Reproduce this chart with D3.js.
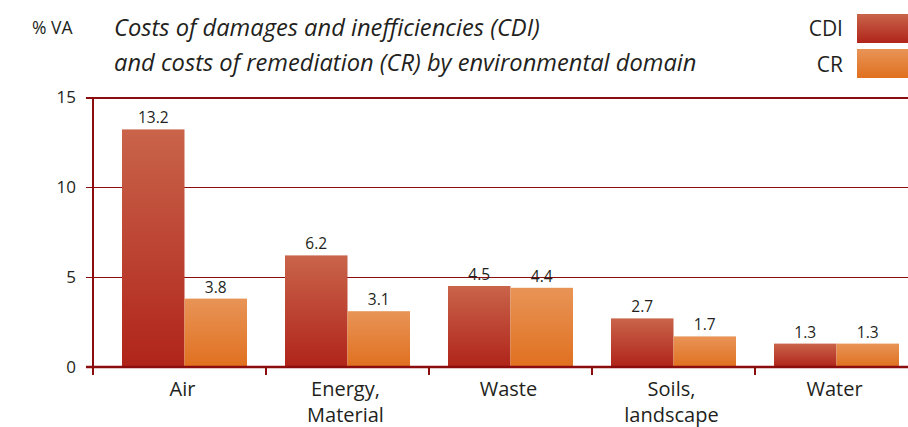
<!DOCTYPE html>
<html>
<head>
<meta charset="utf-8">
<script src="https://cdn.jsdelivr.net/npm/d3@7"></script>
<style>
  body { margin: 0; background: #fff; }
  text { font-family: "Open Sans", "Noto Sans", sans-serif; fill: #231f20; }
</style>
</head>
<body>
<svg id="chart" width="908" height="427"></svg>
<script>
var categories = [["Air"], ["Energy,", "Material"], ["Waste"], ["Soils,", "landscape"], ["Water"]];
var cdi = [13.2, 6.2, 4.5, 2.7, 1.3];
var cr = [3.8, 3.1, 4.4, 1.7, 1.3];
var series = ["CDI", "CR"];
var yTicks = [0, 5, 10, 15];
var titleLines = ["Costs of damages and inefficiencies (CDI)",
                  "and costs of remediation (CR) by environmental domain"];

var svg = d3.select("#chart"),
    width = +svg.attr("width"),
    height = +svg.attr("height");

var axisColor = "#8b0d0d";
var left = 93, zeroY = 367;

var defs = svg.append("defs");
var grads = [["gCDI", "#c9644a", "#b0241a"], ["gCR", "#e89457", "#e0701f"]];
grads.forEach(function(g) {
    var lg = defs.append("linearGradient").attr("id", g[0])
        .attr("x1", 0).attr("y1", 0).attr("x2", 0).attr("y2", 1);
    lg.append("stop").attr("offset", "0%").attr("stop-color", g[1]);
    lg.append("stop").attr("offset", "100%").attr("stop-color", g[2]);
});

var y = d3.scaleLinear().domain([0, 15]).range([zeroY, 97]);
var x0 = d3.scaleBand().domain(d3.range(categories.length)).range([103, 918]).paddingInner(0).paddingOuter(0);
var x1 = d3.scaleBand().domain(series).range([19, 144]).padding(0);

// gridlines
svg.selectAll("line.grid")
    .data(yTicks.filter(function(d) { return d > 0; }))
    .enter().append("line")
    .attr("x1", 86).attr("x2", width)
    .attr("y1", function(d) { return y(d) + 0.5; })
    .attr("y2", function(d) { return y(d) + 0.5; })
    .attr("stroke", axisColor)
    .attr("shape-rendering", "crispEdges")
    .attr("stroke-width", function(d) { return d == 15 ? 2 : 1; });

// bars
var data = categories.map(function(c, i) { return { i: i, vals: [cdi[i], cr[i]] }; });
var groups = svg.selectAll("g.grp")
    .data(data)
    .enter().append("g")
    .attr("transform", function(d) { return "translate(" + x0(d.i) + ",0)"; });

groups.selectAll("rect")
    .data(function(d) { return d.vals.map(function(v, k) { return { k: series[k], v: v }; }); })
    .enter().append("rect")
    .attr("x", function(d) { return x1(d.k); })
    .attr("width", x1.bandwidth())
    .attr("y", function(d) { return y(d.v); })
    .attr("height", function(d) { return zeroY - y(d.v); })
    .attr("fill", function(d) { return "url(#g" + d.k + ")"; });

groups.selectAll("text.val")
    .data(function(d) { return d.vals.map(function(v, k) { return { k: series[k], v: v }; }); })
    .enter().append("text")
    .attr("x", function(d) { return x1(d.k) + x1.bandwidth() / 2; })
    .attr("y", function(d) { return y(d.v) - 6; })
    .attr("text-anchor", "middle")
    .style("font-size", "15.5px")
    .text(function(d) { return d3.format(".1f")(d.v); });

// axes lines
svg.append("line").attr("x1", left).attr("x2", left).attr("y1", 97).attr("y2", zeroY + 8)
    .attr("stroke", axisColor).attr("stroke-width", 2);
svg.append("line").attr("x1", 86).attr("x2", width).attr("y1", zeroY).attr("y2", zeroY)
    .attr("stroke", axisColor).attr("stroke-width", 2.5);

// category separators
svg.selectAll("line.sep")
    .data(d3.range(1, categories.length))
    .enter().append("line")
    .attr("x1", function(d) { return x0(d); })
    .attr("x2", function(d) { return x0(d); })
    .attr("y1", zeroY).attr("y2", zeroY + 8)
    .attr("stroke", axisColor).attr("stroke-width", 2);

// y tick labels
svg.selectAll("text.ytick")
    .data(yTicks)
    .enter().append("text")
    .attr("x", 76)
    .attr("y", function(d) { return y(d) + 6; })
    .attr("text-anchor", "end")
    .style("font-size", "17px")
    .text(function(d) { return d; });

// category labels
svg.selectAll("text.cat")
    .data(categories)
    .enter().append("text")
    .attr("x", function(d, i) { return x0(i) + x0.bandwidth() / 2 - 2; })
    .attr("y", 396)
    .attr("text-anchor", "middle")
    .style("font-size", "20px")
    .selectAll("tspan")
    .data(function(d) { return d; })
    .enter().append("tspan")
    .attr("x", function() { return d3.select(this.parentNode).attr("x"); })
    .attr("dy", function(d, j) { return j == 0 ? 0 : 26; })
    .text(function(d) { return d; });

// unit and title
svg.append("text").attr("x", 32).attr("y", 34).style("font-size", "17.5px").text("% VA");
svg.selectAll("text.title")
    .data(titleLines)
    .enter().append("text")
    .attr("x", 114)
    .attr("y", function(d, i) { return 36 + i * 35; })
    .style("font-size", "23.7px")
    .style("font-style", "italic")
    .text(function(d) { return d; });

// legend
series.forEach(function(s, i) {
    svg.append("rect").attr("x", 857).attr("y", 14 + i * 35).attr("width", 51).attr("height", 29)
        .attr("fill", "url(#g" + s + ")");
    svg.append("text").attr("x", 843).attr("y", 36 + i * 36)
        .attr("text-anchor", "end").style("font-size", "21px").text(s);
});
</script>
</body>
</html>
